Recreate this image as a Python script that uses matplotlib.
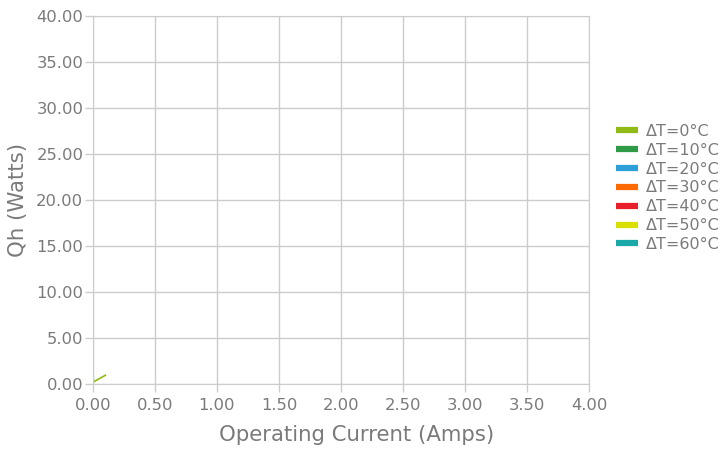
import matplotlib
matplotlib.use("Agg")
import matplotlib.pyplot as plt

# data: only the 0°C series has points
current_dt0 = [0.0, 0.1]
qh_dt0 = [0.2, 0.95]

labels = ["ΔT=0°C", "ΔT=10°C", "ΔT=20°C", "ΔT=30°C", "ΔT=40°C", "ΔT=50°C", "ΔT=60°C"]
colors = ["#8fbb14", "#2e9a45", "#2c9fd8", "#ff6a00", "#e8202a", "#d9e000", "#1aa8a8"]
series_x = [current_dt0, [], [], [], [], [], []]
series_y = [qh_dt0, [], [], [], [], [], []]

xticks = [0, 0.5, 1.0, 1.5, 2.0, 2.5, 3.0, 3.5, 4.0]
yticks = [0, 5, 10, 15, 20, 25, 30, 35, 40]

grey = "#7a7a7a"
gridc = "#cccccc"

fig = plt.figure(figsize=(7.22, 4.5), dpi=100)
ax = fig.add_axes([93 / 722, 1 - 384 / 450, (589 - 93) / 722, (384 - 16) / 450])

for xs, ys, lab, c in zip(series_x, series_y, labels, colors):
    ax.plot(xs, ys, color=c, lw=1.2, label=lab)

ax.set_xlim(0, 4)
ax.set_ylim(0, 40)
ax.set_xticks(xticks)
ax.set_yticks(yticks)
ax.set_xticklabels([f"{v:.2f}" for v in xticks])
ax.set_yticklabels([f"{v:.2f}" for v in yticks])
ax.grid(True, color=gridc, lw=1)
ax.set_axisbelow(True)
for s in ax.spines.values():
    s.set_color(gridc)
ax.tick_params(colors=gridc, labelcolor=grey, labelsize=11.8, length=6, width=1)
ax.tick_params(axis="x", pad=4)
ax.tick_params(axis="y", pad=1)
ax.set_xlabel("Operating Current (Amps)", color=grey, fontsize=15.3)
ax.set_ylabel("Qh (Watts)", color=grey, fontsize=15.3)
ax.xaxis.set_label_coords(0.532, -41 / 368, transform=ax.transAxes)
ax.yaxis.set_label_coords(-65 / 496, 0.5, transform=ax.transAxes)

handles = [plt.Line2D([], [], color=c, lw=4.5, solid_capstyle="butt") for c in colors]
fig.legend(handles, labels, loc="upper left", bbox_to_anchor=(616 / 722, 1 - 124 / 450),
           bbox_transform=fig.transFigure, frameon=False, fontsize=11.5,
           handlelength=1.4, handletextpad=0.45, labelspacing=0.24,
           borderpad=0, borderaxespad=0, labelcolor=grey)

fig.savefig("out.png", dpi=100)
